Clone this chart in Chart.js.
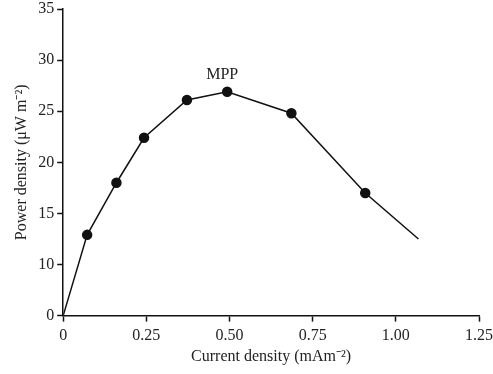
<!DOCTYPE html>
<html>
<head>
<meta charset="utf-8">
<script src="https://cdn.jsdelivr.net/npm/chart.js@4/dist/chart.umd.min.js"></script>
<style>
  html, body { margin: 0; padding: 0; background: #fff; }
  #wrap { width: 493px; height: 374px; }
</style>
</head>
<body>
<div id="wrap"><canvas id="myChart"></canvas></div>
<script>
// current density (mA m-2) and power density (uW m-2)
var currentDensity = [0, 0.072, 0.160, 0.243, 0.372, 0.493, 0.686, 0.908, 1.068];
var powerDensity = [0, 12.9, 18.0, 22.4, 26.1, 26.9, 24.8, 17.0, 12.5];
var markerShown = [false, true, true, true, true, true, true, true, false];
var xTicks = [0, 0.25, 0.5, 0.75, 1.0, 1.25];
var yTicks = [0, 10, 15, 20, 25, 30, 35];
var peakLabel = 'MPP';
var peakIndex = 5;

// the y axis of the original is broken: 0..10 takes a single tick step
function toAxis(v) {
    return v < 10 ? 5 + v / 2 : v;
}

var points = [];
for (var i = 0; i < currentDensity.length; i++) {
    points.push({ x: currentDensity[i], y: toAxis(powerDensity[i]) });
}

var font = { family: "'Liberation Serif', 'Times New Roman', serif", size: 16 };

// write MPP above the peak point
const peakText = {
    id: 'peakText',
    afterDatasetsDraw(chart) {
        var pt = chart.getDatasetMeta(0).data[peakIndex];
        var ctx = chart.ctx;
        ctx.save();
        ctx.font = '16px ' + font.family;
        ctx.fillStyle = '#222';
        ctx.textAlign = 'center';
        ctx.textBaseline = 'bottom';
        ctx.fillText(peakLabel, pt.x - 5, pt.y - 9);
        ctx.restore();
    }
};

const config = {
    type: 'scatter',
    data: {
        datasets: [{
            data: points,
            showLine: true,
            borderColor: '#111',
            borderWidth: 1.5,
            backgroundColor: '#111',
            pointRadius: markerShown.map(function (m) { return m ? 4.5 : 0; }),
            pointHoverRadius: 0,
            tension: 0
        }]
    },
    options: {
        responsive: true,
        maintainAspectRatio: false,
        animation: false,
        layout: { padding: { top: 0, right: 0, left: 12, bottom: 8 } },
        plugins: { legend: { display: false }, tooltip: { enabled: false } },
        scales: {
            x: {
                type: 'linear',
                min: 0, max: 1.25,
                afterBuildTicks: function (axis) {
                    axis.ticks = xTicks.map(function (v) { return { value: v }; });
                },
                afterFit: function (axis) { axis.paddingRight = 14; },
                ticks: {
                    color: '#222', font: font, padding: 5,
                    callback: function (v) { return v === 0 ? '0' : v.toFixed(2); }
                },
                grid: { drawOnChartArea: false, tickLength: 6, tickColor: '#111', tickWidth: 1.5 },
                border: { color: '#111', width: 1.5 },
                title: { display: true, text: 'Current density (mAm⁻²)', color: '#222', font: font, padding: { top: -4, bottom: 0 } }
            },
            y: {
                type: 'linear',
                min: 5, max: 35,
                afterBuildTicks: function (axis) {
                    axis.ticks = yTicks.map(function (v) { return { value: toAxis(v) }; });
                },
                afterFit: function (axis) { axis.paddingTop = 9; },
                ticks: {
                    color: '#222', font: font, padding: 3,
                    callback: function (v) { return v === 5 ? '0' : String(v); }
                },
                grid: { drawOnChartArea: false, tickLength: 6, tickColor: '#111', tickWidth: 1.5 },
                border: { color: '#111', width: 1.5 },
                title: { display: true, text: 'Power density (μW m⁻²)', color: '#222', font: font, padding: { top: 0, bottom: 4 } }
            }
        }
    },
    plugins: [peakText]
};

const myChart = new Chart(document.getElementById('myChart'), config);
</script>
</body>
</html>
